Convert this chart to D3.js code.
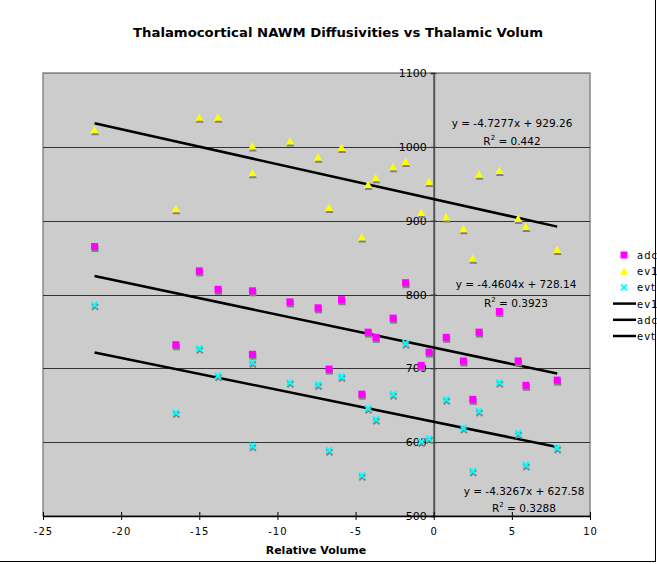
<!DOCTYPE html>
<html>
<head>
<meta charset="utf-8">
<script src="https://cdn.jsdelivr.net/npm/d3@7"></script>
<style>
  body { margin: 0; background: #fff; }
  text { font-family: "DejaVu Sans", Verdana, sans-serif; }
</style>
</head>
<body>
<div id="chart"></div>
<script>
// Relative volume of each subject (shared by all three series)
const relVolume = [-21.7, -16.5, -15.0, -13.8, -11.6, -11.6, -9.2, -7.4, -6.7, -5.9, -4.6, -4.2, -3.7,
                   -2.6, -1.8, -0.8, -0.3, 0.8, 1.9, 2.5, 2.9, 4.2, 5.4, 5.9, 7.9];
const adc = [865, 732, 832, 807, 805, 719, 790, 782, 699, 793, 665, 749, 742,
             768, 816, 704, 722, 742, 710, 658, 749, 777, 710, 677, 684];
const ev1 = [1023, 916, 1040, 1040, 1001, 965, 1008, 986, 918, 999, 878, 949, 958,
             973, 980, 911, 953, 905, 889, 849, 963, 968, 903, 892, 861];
const evt = [786, 640, 727, 690, 708, 595, 681, 678, 589, 689, 555, 646, 631,
             665, 734, 601, 605, 658, 619, 561, 642, 681, 612, 569, 592];

// Linear trendlines as reported on the chart: [slope, intercept, R²]
const fits = {
  ev1: [-4.7277, 929.26, "0.442"],
  adc: [-4.4604, 728.14, "0.3923"],
  evt: [-4.3267, 627.58, "0.3288"]
};

const xTicks = [-25, -20, -15, -10, -5, 0, 5, 10];
const yTicks = [500, 600, 700, 800, 900, 1000, 1100];

const width = 657, height = 564;
const plot = { left: 43, right: 590, top: 73, bottom: 516 };

const svg = d3.select('#chart').append('svg')
  .attr('width', width)
  .attr('height', height);

// outer frame (right + bottom edges visible)
svg.append('line').attr('x1', 655.5).attr('x2', 655.5).attr('y1', 0).attr('y2', 562)
  .attr('stroke', '#000');
svg.append('line').attr('x1', 0).attr('x2', 656).attr('y1', 561.5).attr('y2', 561.5)
  .attr('stroke', '#000');

const xScale = d3.scaleLinear().domain([-25, 10]).range([plot.left, plot.right]);
const yScale = d3.scaleLinear().domain([500, 1100]).range([plot.bottom, plot.top]);

// plot background
svg.append('rect')
  .attr('x', plot.left).attr('y', plot.top)
  .attr('width', plot.right - plot.left).attr('height', plot.bottom - plot.top)
  .attr('fill', '#cccccc')
  .attr('stroke', '#888').attr('stroke-width', 1.5);

// horizontal gridlines
svg.append('g').selectAll('line')
  .data(yTicks.filter(d => d > 500))
  .join('line')
  .attr('x1', plot.left).attr('x2', plot.right)
  .attr('y1', d => Math.round(yScale(d)) + 0.5).attr('y2', d => Math.round(yScale(d)) + 0.5)
  .attr('stroke', d => d === 1100 ? '#888' : '#333')
  .attr('stroke-width', 1.2);

// y axis at x = 0
const yAxis = d3.axisLeft(yScale).tickValues(yTicks).tickFormat(d => String(d))
  .tickSize(3).tickPadding(4);
const yAxisG = svg.append('g')
  .attr('transform', `translate(${xScale(0)},0)`)
  .call(yAxis);
yAxisG.select('.domain').attr('stroke', '#555').attr('stroke-width', 2);
yAxisG.selectAll('.tick line').attr('x2', 3).attr('x1', -3).attr('stroke', '#333');
yAxisG.selectAll('.tick text').attr('font-size', 11).attr('fill', '#000')
  .attr('font-family', '"DejaVu Sans", Verdana, sans-serif');

// x axis at bottom
const xAxis = d3.axisBottom(xScale).tickValues(xTicks).tickFormat(d => String(d))
  .tickSize(4).tickPadding(8).tickSizeOuter(0);
const xAxisG = svg.append('g')
  .attr('transform', `translate(0,${plot.bottom})`)
  .call(xAxis);
xAxisG.select('.domain').attr('stroke', '#000').attr('stroke-width', 1.5);
xAxisG.selectAll('.tick line').attr('y1', -4).attr('stroke', '#000');
xAxisG.selectAll('.tick text').attr('font-size', 10).attr('fill', '#000')
  .attr('letter-spacing', 1)
  .attr('font-family', '"DejaVu Sans", Verdana, sans-serif');

// trendlines
const xExtent = d3.extent(relVolume);
const line = d3.line().x(d => xScale(d[0])).y(d => yScale(d[1]));
['ev1', 'adc', 'evt'].forEach(k => {
  const [m, b] = fits[k];
  svg.append('path')
    .datum(xExtent.map(x => [x, m * x + b]))
    .attr('d', line)
    .attr('fill', 'none')
    .attr('stroke', '#000')
    .attr('stroke-width', 2.5);
});

// marker shapes
const shapes = {
  adc: { path: 'M-3.5,-3.5h7v7h-7z', fill: '#ff00ff' },
  ev1: { path: 'M0,-4L4,3.5L-4,3.5z', fill: '#ffff00' },
  evt: { path: 'M-3,-3L3,3M3,-3L-3,3', fill: 'none', stroke: '#00ffff' }
};

function drawSeries(values, key) {
  const pts = relVolume.map((x, i) => [x, values[i]]);
  const s = shapes[key];
  const g = svg.append('g');
  // shadow
  g.selectAll('.shadow')
    .data(pts)
    .join('path')
    .attr('class', 'shadow')
    .attr('transform', d => `translate(${xScale(d[0]) + 0.5},${yScale(d[1]) + 2})`)
    .attr('d', s.path)
    .attr('fill', s.fill === 'none' ? 'none' : '#808080')
    .attr('stroke', s.stroke ? '#808080' : 'none')
    .attr('stroke-width', 2);
  g.selectAll('.mark')
    .data(pts)
    .join('path')
    .attr('class', 'mark')
    .attr('transform', d => `translate(${xScale(d[0])},${yScale(d[1])})`)
    .attr('d', s.path)
    .attr('fill', s.fill)
    .attr('stroke', s.stroke || 'none')
    .attr('stroke-width', 2);
}
drawSeries(ev1, 'ev1');
drawSeries(adc, 'adc');
drawSeries(evt, 'evt');

// trendline equations
const eqPos = { ev1: [512, 127, 145], adc: [516, 288, 307], evt: [524, 495, 512] };
['ev1', 'adc', 'evt'].forEach(k => {
  const [m, b, r2] = fits[k];
  const [cx, y1, y2] = eqPos[k];
  svg.append('text')
    .attr('x', cx).attr('y', y1)
    .attr('text-anchor', 'middle')
    .attr('font-size', 10.5)
    .text(`y = ${m}x + ${b}`);
  const t = svg.append('text')
    .attr('x', cx).attr('y', y2)
    .attr('text-anchor', 'middle')
    .attr('font-size', 10.5);
  t.append('tspan').text('R');
  t.append('tspan').attr('dy', -5).attr('font-size', 7).text('2');
  t.append('tspan').attr('dy', 5).text(` = ${r2}`);
});

// title and axis title
svg.append('text')
  .attr('x', 338).attr('y', 37)
  .attr('text-anchor', 'middle')
  .attr('font-size', 13).attr('font-weight', 'bold')
  .attr('textLength', 410).attr('lengthAdjust', 'spacingAndGlyphs')
  .text('Thalamocortical NAWM Diffusivities vs Thalamic Volum');

svg.append('text')
  .attr('x', 316).attr('y', 554)
  .attr('text-anchor', 'middle')
  .attr('font-size', 11).attr('font-weight', 'bold')
  .text('Relative Volume');

// legend
const legendItems = [
  { key: 'adc', label: 'adc', type: 'marker' },
  { key: 'ev1', label: 'ev1', type: 'marker' },
  { key: 'evt', label: 'evt', type: 'marker' },
  { key: 'ev1', label: 'ev1', type: 'line' },
  { key: 'adc', label: 'adc', type: 'line' },
  { key: 'evt', label: 'evt', type: 'line' }
];
const legend = svg.append('g');
legendItems.forEach((d, i) => {
  const y = 255 + i * 16.2;
  if (d.type === 'marker') {
    const s = shapes[d.key];
    legend.append('path')
      .attr('transform', `translate(${624},${y})`)
      .attr('d', s.path)
      .attr('fill', s.fill)
      .attr('stroke', s.stroke || 'none')
      .attr('stroke-width', 2);
  } else {
    legend.append('line')
      .attr('x1', 613).attr('x2', 636).attr('y1', y).attr('y2', y)
      .attr('stroke', '#000').attr('stroke-width', 2.5);
  }
  legend.append('text')
    .attr('x', 637).attr('y', y + 4)
    .attr('font-size', 10)
    .attr('letter-spacing', 1)
    .text(d.label);
});
</script>
</body>
</html>
